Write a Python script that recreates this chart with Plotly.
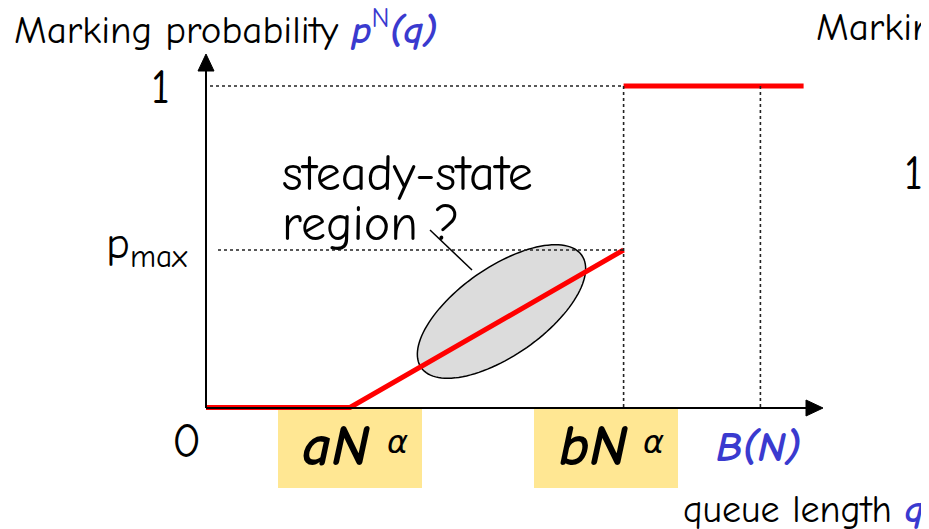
import numpy as np
import plotly.graph_objects as go

# ---- data (schematic RED marking profile) ----
q_low = [0, 20]            # p = 0 up to aN^alpha
p_low = [0, 0]
q_ramp = [20, 58]          # linear ramp from aN^alpha to bN^alpha
p_ramp = [0, 0.49]
q_top = [58, 83]           # p = 1 beyond bN^alpha
p_top = [1, 1]
a_q, b_q, B_q = 20, 58, 77
p_max = 0.49

# ---- pixel <-> data helpers (page body adds an 8px margin) ----
OFF = 8
W, H = 929 - OFF, 529 - OFF
PX0, PXU = 206.0, 7.2        # screen pixel of q=0, pixels per unit q
PY0, PYU = 407.5, 321.5      # screen pixel of p=0, pixels per unit p
def X(px): return (px - PX0) / PXU
def Y(py): return (PY0 - py) / PYU

FONT = "Comic Sans MS, Comic Neue, DejaVu Sans, sans-serif"
BLUE = "#3a3acf"

fig = go.Figure()
shapes = []
ann = []

# yellow label boxes
for x0, x1 in [(278, 422), (534, 678)]:
    shapes.append(dict(type="rect", xref="x", yref="y", x0=X(x0), x1=X(x1), y0=Y(408), y1=Y(488),
                       fillcolor="#ffe793", line=dict(width=0), layer="below"))

# ellipse (steady-state region)
cx, cy, ea, eb, th = 501.5, 311.5, 98, 44, np.deg2rad(35)
t = np.linspace(0, 2*np.pi, 121)
epx = cx + ea*np.cos(t)*np.cos(th) - eb*np.sin(t)*np.sin(th)
epy = cy - (ea*np.cos(t)*np.sin(th) + eb*np.sin(t)*np.cos(th))
path = "M " + " L ".join(f"{X(a):.4f},{Y(b):.5f}" for a, b in zip(epx, epy)) + " Z"
shapes.append(dict(type="path", xref="x", yref="y", path=path, fillcolor="#dcdcdc",
                   line=dict(color="black", width=1.5), layer="below"))

# dotted guide lines
dot = dict(color="#222222", width=1.6, dash="dot")
shapes.append(dict(type="line", xref="x", yref="y", x0=X(210), x1=b_q, y0=1, y1=1, line=dot))
shapes.append(dict(type="line", xref="x", yref="y", x0=X(218), x1=b_q, y0=p_max, y1=p_max, line=dot))
shapes.append(dict(type="line", xref="x", yref="y", x0=b_q, x1=b_q, y0=1, y1=0, line=dot))
shapes.append(dict(type="line", xref="x", yref="y", x0=B_q, x1=B_q, y0=1, y1=0, line=dot))

# axes with arrowheads
shapes.append(dict(type="line", xref="x", yref="y", x0=0, x1=X(808), y0=Y(408), y1=Y(408),
                   line=dict(color="black", width=2)))
shapes.append(dict(type="line", xref="x", yref="y", x0=0, x1=0, y0=Y(408), y1=Y(68),
                   line=dict(color="black", width=2)))
shapes.append(dict(type="path", xref="x", yref="y",
                   path=f"M {X(806)},{Y(400)} L {X(823)},{Y(408)} L {X(806)},{Y(416)} Z",
                   fillcolor="black", line=dict(color="black", width=1)))
shapes.append(dict(type="path", xref="x", yref="y",
                   path=f"M {X(198)},{Y(71)} L {X(206)},{Y(54)} L {X(214)},{Y(71)} Z",
                   fillcolor="black", line=dict(color="black", width=1)))

# leader line from label to ellipse
shapes.append(dict(type="line", xref="x", yref="y", x0=X(430), y0=Y(230), x1=X(472), y1=Y(270),
                   line=dict(color="black", width=1.5)))

# red marking curve
red = dict(color="#ff0000", width=5)
fig.add_trace(go.Scatter(x=q_low + q_ramp[1:], y=p_low + p_ramp[1:], mode="lines", line=red,
                         hoverinfo="skip", showlegend=False))
fig.add_trace(go.Scatter(x=q_top, y=p_top, mode="lines", line=red, hoverinfo="skip", showlegend=False))

def text(px, py, s, size, color="black", xanchor="center"):
    ann.append(dict(x=X(px), y=Y(py), xref="x", yref="y", text=s, showarrow=False,
                    xanchor=xanchor, yanchor="middle",
                    font=dict(family=FONT, size=size, color=color)))

text(12, 27, f"Marking probability <span style='color:{BLUE}'><b><i>p</i></b><sup>N</sup><b><i>(q)</i></b></span>",
     39, xanchor="left")
text(814, 27, "Marking probability", 39, xanchor="left")
text(913, 173, "1", 48)
text(160, 87, "1", 48)
text(186, 441, "0", 48)
text(104, 246, "p<sub>max</sub>", 45, xanchor="left")
text(280, 174, "steady-state", 50, xanchor="left")
text(280, 224, "region ?", 50, xanchor="left")
text(336, 446, "<b><i>aN</i></b>", 58)
text(397, 442, "<i>α</i>", 32)
text(594, 446, "<b><i>bN</i></b>", 58)
text(653, 442, "<i>α</i>", 32)
text(758, 447, "<b><i>B(N)</i></b>", 43, color=BLUE)
text(926, 510, f"queue length <span style='color:{BLUE}'><b><i>q</i></b></span>", 38, xanchor="right")

fig.update_layout(
    width=W, height=H, margin=dict(l=0, r=0, t=0, b=0),
    paper_bgcolor="white", plot_bgcolor="white",
    xaxis=dict(range=[X(OFF), X(929)], visible=False, fixedrange=True),
    yaxis=dict(range=[Y(529), Y(OFF)], visible=False, fixedrange=True),
    shapes=shapes, annotations=ann, showlegend=False,
)
fig.write_html("out.html")
